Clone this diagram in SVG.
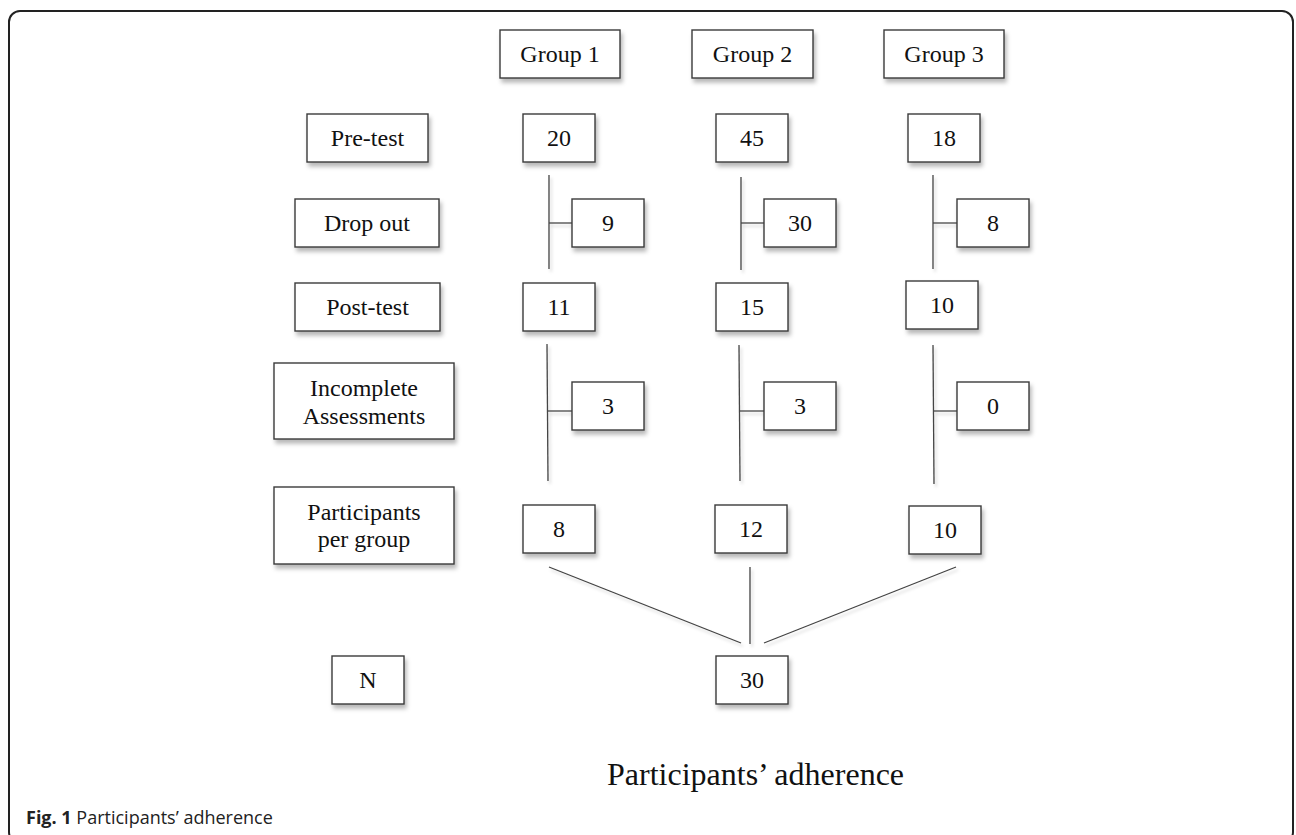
<svg xmlns="http://www.w3.org/2000/svg" width="1296" height="835" viewBox="0 0 1296 835">
<defs>
<filter id="sh" x="-20%" y="-20%" width="150%" height="160%">
<feDropShadow dx="2" dy="4" stdDeviation="2.2" flood-color="#000" flood-opacity="0.28"/>
</filter>
<filter id="lsh" filterUnits="userSpaceOnUse" x="0" y="0" width="1296" height="835">
<feDropShadow dx="2" dy="3" stdDeviation="1.5" flood-color="#000" flood-opacity="0.18"/>
</filter>
<style>
.box{fill:#fff;stroke:#3a3a3a;stroke-width:1.4;filter:url(#sh)}
.t{font-family:"Liberation Serif","Times New Roman",serif;font-size:24px;fill:#111;text-anchor:middle}
.ln{stroke:#444;stroke-width:1.3;fill:none}
</style>
</defs>
<rect width="1296" height="835" fill="#fff"/>
<rect x="9" y="11" width="1284" height="832" rx="11" ry="11" fill="none" stroke="#222" stroke-width="2"/>

<g id="connectors" filter="url(#lsh)">
<line class="ln" x1="549" y1="175" x2="549" y2="269"/>
<line class="ln" x1="549" y1="223" x2="572" y2="223"/>
<line class="ln" x1="741" y1="177" x2="741" y2="270"/>
<line class="ln" x1="741" y1="223" x2="764" y2="223"/>
<line class="ln" x1="933" y1="175" x2="933" y2="269"/>
<line class="ln" x1="933" y1="223" x2="957" y2="223"/>
<line class="ln" x1="547" y1="344" x2="548" y2="481"/>
<line class="ln" x1="548" y1="411" x2="572" y2="411"/>
<line class="ln" x1="739" y1="345" x2="740" y2="481"/>
<line class="ln" x1="740" y1="411" x2="764" y2="411"/>
<line class="ln" x1="933" y1="345" x2="934" y2="484"/>
<line class="ln" x1="934" y1="411" x2="957" y2="411"/>
<line class="ln" x1="549" y1="567" x2="741" y2="643"/>
<line class="ln" x1="750" y1="567" x2="750" y2="644"/>
<line class="ln" x1="956" y1="567" x2="764" y2="643"/>
</g>

<g id="group1"><rect class="box" x="500" y="30" width="120" height="48"/><text class="t" x="560" y="62">Group 1</text></g>
<g id="group2"><rect class="box" x="692" y="30" width="121" height="48"/><text class="t" x="752.5" y="62">Group 2</text></g>
<g id="group3"><rect class="box" x="884" y="30" width="120" height="48"/><text class="t" x="944" y="62">Group 3</text></g>

<g id="pretest"><rect class="box" x="307" y="114" width="121" height="48"/><text class="t" x="367.5" y="146">Pre-test</text></g>
<g id="dropout"><rect class="box" x="295" y="199" width="144" height="48"/><text class="t" x="367" y="231">Drop out</text></g>
<g id="posttest"><rect class="box" x="295" y="283" width="145" height="48"/><text class="t" x="367.5" y="315">Post-test</text></g>
<g id="incomplete"><rect class="box" x="274" y="363" width="180" height="76"/><text class="t" x="364" y="396">Incomplete</text><text class="t" x="364" y="424">Assessments</text></g>
<g id="participants"><rect class="box" x="274" y="487" width="180" height="77"/><text class="t" x="364" y="520">Participants</text><text class="t" x="364" y="547">per group</text></g>
<g id="n"><rect class="box" x="332" y="656" width="72" height="48"/><text class="t" x="368" y="688">N</text></g>

<g id="g1-pre"><rect class="box" x="523" y="114" width="72" height="48"/><text class="t" x="559" y="146">20</text></g>
<g id="g2-pre"><rect class="box" x="716" y="114" width="72" height="48"/><text class="t" x="752" y="146">45</text></g>
<g id="g3-pre"><rect class="box" x="908" y="114" width="72" height="48"/><text class="t" x="944" y="146">18</text></g>

<g id="g1-drop"><rect class="box" x="572" y="199" width="72" height="48"/><text class="t" x="608" y="231">9</text></g>
<g id="g2-drop"><rect class="box" x="764" y="199" width="72" height="48"/><text class="t" x="800" y="231">30</text></g>
<g id="g3-drop"><rect class="box" x="957" y="199" width="72" height="48"/><text class="t" x="993" y="231">8</text></g>

<g id="g1-post"><rect class="box" x="523" y="283" width="72" height="48"/><text class="t" x="559" y="315">11</text></g>
<g id="g2-post"><rect class="box" x="716" y="283" width="72" height="48"/><text class="t" x="752" y="315">15</text></g>
<g id="g3-post"><rect class="box" x="906" y="281" width="72" height="48"/><text class="t" x="942" y="313">10</text></g>

<g id="g1-inc"><rect class="box" x="572" y="382" width="72" height="48"/><text class="t" x="608" y="414">3</text></g>
<g id="g2-inc"><rect class="box" x="764" y="382" width="72" height="48"/><text class="t" x="800" y="414">3</text></g>
<g id="g3-inc"><rect class="box" x="957" y="382" width="72" height="48"/><text class="t" x="993" y="414">0</text></g>

<g id="g1-final"><rect class="box" x="523" y="505" width="72" height="48"/><text class="t" x="559" y="537">8</text></g>
<g id="g2-final"><rect class="box" x="715" y="505" width="72" height="48"/><text class="t" x="751" y="537">12</text></g>
<g id="g3-final"><rect class="box" x="909" y="506" width="72" height="48"/><text class="t" x="945" y="538">10</text></g>

<g id="total"><rect class="box" x="716" y="656" width="72" height="48"/><text class="t" x="752" y="688">30</text></g>

<text x="607" y="785" font-family="Liberation Serif, Times New Roman, serif" font-size="32" fill="#111">Participants’ adherence</text>
<text x="26" y="824" font-family="Open Sans, sans-serif" font-size="18" fill="#222"><tspan font-weight="bold">Fig. 1</tspan> Participants’ adherence</text>
</svg>
